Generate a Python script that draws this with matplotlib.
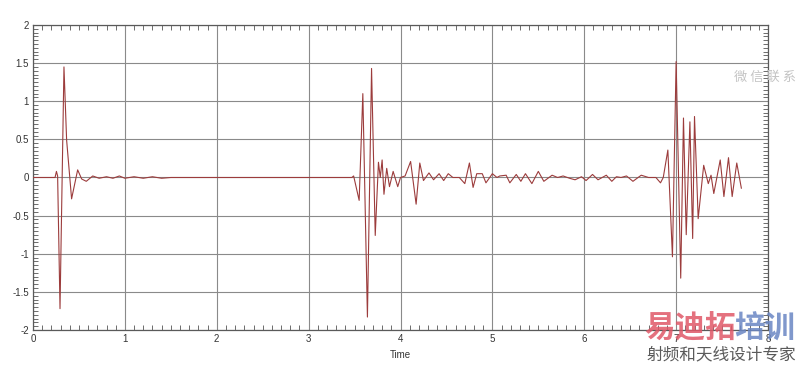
import matplotlib
matplotlib.use("Agg")
import matplotlib.pyplot as plt
from matplotlib.ticker import MultipleLocator, FormatStrFormatter

# Signal values, one list pair per burst
t_burst1 = [0.0, 0.24, 0.255, 0.268, 0.294, 0.337, 0.366, 0.42, 0.486, 0.53, 0.58,
            0.65, 0.72, 0.80, 0.87, 0.94, 1.0, 1.1, 1.2, 1.3, 1.4, 1.5]
v_burst1 = [0.0, 0.0, 0.08, 0.02, -1.72, 1.45, 0.49, -0.28, 0.10, -0.02, -0.05,
            0.02, -0.01, 0.01, -0.01, 0.02, -0.01, 0.01, -0.01, 0.01, -0.01, 0.0]

t_burst2 = [3.47, 3.49, 3.55, 3.59, 3.64, 3.685, 3.725, 3.76, 3.78, 3.80, 3.82, 3.85,
            3.88, 3.92, 3.97, 4.0, 4.05, 4.11, 4.17, 4.21, 4.25, 4.31, 4.36, 4.42,
            4.47, 4.52, 4.57, 4.64, 4.70, 4.75, 4.79, 4.83, 4.89, 4.93, 5.0, 5.05,
            5.08, 5.15, 5.19, 5.26, 5.31, 5.36, 5.43, 5.50, 5.56, 5.65, 5.71, 5.77,
            5.84, 5.90, 5.97, 6.02, 6.09, 6.15, 6.24, 6.30, 6.35, 6.40, 6.46, 6.53,
            6.62, 6.70, 6.78]
v_burst2 = [0.0, 0.02, -0.30, 1.10, -1.83, 1.43, -0.76, 0.20, 0.0, 0.23, -0.22, 0.12,
            -0.12, 0.08, -0.12, 0.0, 0.02, 0.21, -0.35, 0.19, -0.04, 0.06, -0.03, 0.05,
            -0.04, 0.05, 0.0, 0.0, -0.08, 0.19, -0.13, 0.05, 0.05, -0.07, 0.05, 0.0,
            0.02, 0.03, -0.07, 0.04, -0.05, 0.05, -0.08, 0.08, -0.05, 0.03, 0.0, 0.02,
            -0.01, -0.03, 0.01, -0.04, 0.04, -0.03, 0.03, -0.05, 0.01, 0.0, 0.02, -0.05,
            0.03, 0.0, 0.0]

t_burst3 = [6.83, 6.86, 6.91, 6.96, 7.00, 7.05, 7.08, 7.11, 7.15, 7.18, 7.20, 7.24,
            7.30, 7.35, 7.38, 7.41, 7.48, 7.52, 7.57, 7.61, 7.66, 7.71]
v_burst3 = [-0.07, 0.0, 0.36, -1.04, 1.52, -1.32, 0.78, -0.75, 0.73, -0.80, 0.80, -0.54,
            0.16, -0.08, 0.03, -0.21, 0.23, -0.25, 0.26, -0.25, 0.19, -0.14]

x_ticks = [0, 1, 2, 3, 4, 5, 6, 7, 8]
y_ticks = [-2, -1.5, -1, -0.5, 0, 0.5, 1, 1.5, 2]

plt.rcParams.update({
    "font.family": ["Liberation Sans", "DejaVu Sans"],
    "font.size": 7,
    "axes.unicode_minus": False,
})

fig = plt.figure(figsize=(8.0, 3.67), dpi=100)
ax = fig.add_axes([0.04125, 0.1008, 0.91875, 0.8311])

time = t_burst1 + t_burst2 + t_burst3
amp = v_burst1 + v_burst2 + v_burst3
ax.plot(time, amp, color="#9c3c3c", linewidth=0.8, zorder=3)

ax.set_xlim(0, 8)
ax.set_ylim(-2, 2)
ax.set_xticks(x_ticks)
ax.set_yticks(y_ticks)
ax.xaxis.set_minor_locator(MultipleLocator(0.1))
ax.yaxis.set_minor_locator(MultipleLocator(0.05))
ax.yaxis.set_major_formatter(FormatStrFormatter("%g"))
ax.tick_params(which="both", direction="in", top=True, right=True,
               colors="#555555", labelcolor="#333333")
ax.tick_params(which="major", length=0, pad=3)
ax.tick_params(which="minor", length=3.5, width=0.6)
ax.grid(True, which="major", color="#8a8a8a", linewidth=0.8)
for sp in ax.spines.values():
    sp.set_color("#5a5a5a")
    sp.set_linewidth(0.9)

ax.set_xlabel("Time", fontsize=7, color="#333333", labelpad=4)

# watermark texts
cjk = ["Noto Sans CJK SC", "DejaVu Sans"]
fig.text(0.995, 0.79, "微 信 联 系", family=cjk, fontsize=9.5, color="#c4c4c4",
         ha="right", va="center")
fig.text(0.806, 0.105, "易迪拓", family=cjk, fontsize=22, fontweight="bold",
         color="#e05868", alpha=0.85, ha="left", va="center")
fig.text(0.918, 0.105, "培训", family=cjk, fontsize=22, fontweight="bold",
         color="#6a86c4", alpha=0.85, ha="left", va="center")
fig.text(0.995, 0.032, "射频和天线设计专家", family=cjk, fontsize=12,
         color="#5a5a5a", ha="right", va="center")

fig.savefig("out.png", dpi=100)
